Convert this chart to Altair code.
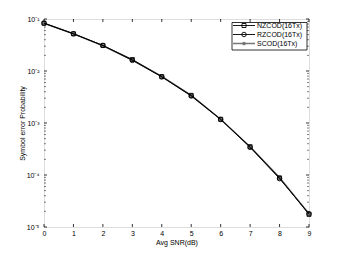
import altair as alt
import pandas as pd

snr = [0, 1, 2, 3, 4, 5, 6, 7, 8, 9]
nzcod = [0.083, 0.052, 0.031, 0.0166, 0.0078, 0.0034, 0.00118, 0.00035, 0.000088, 0.0000175]
rzcod = [0.083, 0.052, 0.031, 0.0160, 0.0077, 0.0033, 0.00117, 0.00034, 0.000085, 0.000018]
scod = [0.083, 0.052, 0.0305, 0.0163, 0.0079, 0.0034, 0.00118, 0.00035, 0.000090, 0.0000180]
series_names = ["NZCOD(16Tx)", "RZCOD(16Tx)", "SCOD(16Tx)"]
x_ticks = [0, 1, 2, 3, 4, 5, 6, 7, 8, 9]
y_ticks = [1e-5, 1e-4, 1e-3, 1e-2, 1e-1]

W, H = 265, 208
FONT = "Liberation Sans"

xs = alt.Scale(domain=[0, 9], nice=False)
ys = alt.Scale(type="log", domain=[1e-5, 1e-1], nice=False)

y_lab = "'10' + ['\u207b\u2075','\u207b\u2074','\u207b\u00b3','\u207b\u00b2','\u207b\u00b9'][round(log(datum.value)/LN10)+5]"

ax_common = dict(tickSize=0, grid=False, domain=False, labelFont=FONT, titleFont=FONT,
                 labelFontSize=7, titleFontSize=7, titleFontWeight="normal",
                 labelColor="black", titleColor="black", labelOverlap=False,
                 labelBound=False, labelFlush=False)
x_axis = alt.Axis(values=x_ticks, format="d", labelPadding=2, titlePadding=2, **ax_common)
y_axis = alt.Axis(values=y_ticks, labelExpr=y_lab, labelPadding=5, titlePadding=1, **ax_common)

def X(field="snr:Q"):
    return alt.X(field, scale=xs, axis=x_axis, title="Avg SNR(dB)")

def Y(field="p:Q"):
    return alt.Y(field, scale=ys, axis=y_axis, title="Symbol error Probability")

df = pd.DataFrame({
    "snr": snr * 3,
    "p": nzcod + rzcod + scod,
    "s": [series_names[0]] * 10 + [series_names[1]] * 10 + [series_names[2]] * 10,
})

def series(name, color, sw, shape, filled, size):
    d = df[df.s == name]
    line = alt.Chart(d).mark_line(color=color, strokeWidth=sw).encode(x=X(), y=Y())
    pt = alt.Chart(d).mark_point(color=color, shape=shape, filled=filled, size=size,
                                 strokeWidth=0.9, opacity=1).encode(x=X(), y=Y())
    return line + pt

s3 = series(series_names[2], "#777777", 1.5, "circle", True, 14)
s1 = series(series_names[0], "black", 0.9, "square", False, 16)
s2 = series(series_names[1], "black", 0.9, "circle", False, 20)

# inward ticks
xt = pd.DataFrame({"snr": x_ticks})
xtick_b = alt.Chart(xt).mark_rule(color="black", strokeWidth=0.8).encode(
    x=X(), y=alt.value(H), y2=alt.value(H - 3))
xtick_t = alt.Chart(xt).mark_rule(color="black", strokeWidth=0.8).encode(
    x=X(), y=alt.value(0), y2=alt.value(3))
yt = pd.DataFrame({"p": y_ticks})
ytick_l = alt.Chart(yt).mark_rule(color="black", strokeWidth=0.8).encode(
    y=Y(), x=alt.value(0), x2=alt.value(3))
ytick_r = alt.Chart(yt).mark_rule(color="black", strokeWidth=0.8).encode(
    y=Y(), x=alt.value(W), x2=alt.value(W - 3))
minor = [m * d for d in [1e-5, 1e-4, 1e-3, 1e-2] for m in range(2, 10)]
ym = pd.DataFrame({"p": minor})
ymin_l = alt.Chart(ym).mark_rule(color="black", strokeWidth=0.5).encode(
    y=Y(), x=alt.value(0), x2=alt.value(2))
ymin_r = alt.Chart(ym).mark_rule(color="black", strokeWidth=0.5).encode(
    y=Y(), x=alt.value(W), x2=alt.value(W - 2))

# legend
one = pd.DataFrame({"a": [0]})
legend_layers = [alt.Chart(one).mark_rect(fill="white", stroke="black", strokeWidth=0.8).encode(
    x=alt.value(188), x2=alt.value(263), y=alt.value(3.5), y2=alt.value(31))]
rows = [
    (series_names[0], "black", 0.9, "square", False, 16, 6.5),
    (series_names[1], "black", 0.9, "circle", False, 20, 15.5),
    (series_names[2], "#777777", 1.5, "circle", True, 14, 24.5),
]
for name, color, sw, shape, filled, size, yy in rows:
    legend_layers.append(alt.Chart(one).mark_rule(color=color, strokeWidth=sw).encode(
        x=alt.value(189), x2=alt.value(211), y=alt.value(yy)))
    legend_layers.append(alt.Chart(one).mark_point(color=color, shape=shape, filled=filled,
                                                   size=size, opacity=1, strokeWidth=0.9).encode(
        x=alt.value(200), y=alt.value(yy)))
    legend_layers.append(alt.Chart(pd.DataFrame({"t": [name]})).mark_text(
        align="left", baseline="middle", font=FONT, fontSize=7, color="black").encode(
        x=alt.value(213), y=alt.value(yy), text="t:N"))

chart = alt.layer(xtick_b, xtick_t, ytick_l, ytick_r, ymin_l, ymin_r,
                  s3, s1, s2, *legend_layers).properties(
    width=W, height=H,
    autosize=alt.AutoSizeParams(type="none"),
    padding={"left": 36, "top": 11, "right": 24, "bottom": 28},
).configure_view(stroke="black", strokeWidth=1).configure_axis(
    labelOverlap=False
).configure(background="white")

chart.save("out.html", embed_options={"renderer": "svg", "actions": False})
